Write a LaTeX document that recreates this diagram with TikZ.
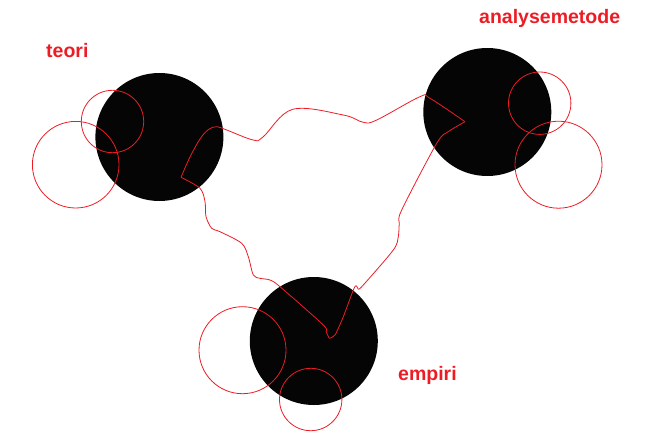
\documentclass[tikz,border=0pt]{standalone}
\usepackage{fontspec}
\setmainfont{Liberation Sans}
\definecolor{lred}{RGB}{237,28,36}
\begin{document}
\begin{tikzpicture}[x=1pt,y=-1pt,
  blob/.style={circle,fill=black!98,inner sep=0pt,minimum size=128pt},
  ring/.style={circle,draw=lred,line width=0.8pt,inner sep=0pt,minimum size=#1},
  lbl/.style={text=lred,font=\fontsize{19.5}{23}\selectfont\bfseries,inner sep=0pt,anchor=base west},
  wave/.style={draw=lred,line width=0.8pt,line join=round}]
\useasboundingbox (0,0) rectangle (655,433);

% three filled discs
\node[blob] (teoriC) at (159.4,137) {};
\node[blob] (analyseC) at (487.3,112) {};
\node[blob] (empiriC) at (313.8,341) {};

% outline rings around each disc
\node[ring=62.4pt] (t1) at (112.5,121.5) {};
\node[ring=86.6pt] (t2) at (75.7,164.7) {};
\node[ring=62.4pt] (a1) at (539.7,103.2) {};
\node[ring=87pt] (a2) at (558.5,164.7) {};
\node[ring=87pt] (e1) at (242.5,350.2) {};
\node[ring=62.4pt] (e2) at (310.7,399.5) {};

% hand-drawn loop through the three discs
\draw[wave] plot[smooth,tension=0.6] coordinates {(181,177.3) (190,157) (200,139) (208.5,129.5) (216.7,126.7) (226.7,130) (253.3,140) (263.3,136.7) (292.7,109.3) (343.3,115) (363.3,122.3) (376.7,120) (420,96.7) (430,98.3) (465,121.7)};
\draw[wave] plot[smooth,tension=0.5] coordinates {(465,121.7) (448.3,131.7) (436.7,143.3) (401.7,210) (399.3,223.3) (398.3,236.7) (393.3,250) (363.3,285) (358.3,289.3)};
\draw[wave] plot[smooth,tension=0.4] coordinates {(358.3,289.3) (356,285.7) (353.3,290) (343.3,316.7) (335,335) (329.3,338.3)};
\draw[wave] plot[smooth,tension=0.5] coordinates {(329.3,338.3) (326,331.7) (323.3,325) (280,286.7) (270,280) (260,278.3) (253.3,275) (248.3,256.7) (241.7,243.3) (220,231.7) (211.7,228.3) (206,216.7) (205,201.7) (200,188.3) (181,177.3)};

% labels
\node[lbl] (teoriL) at (46,57.3) {teori};
\node[lbl] (analyseL) at (479,23.3) {analysemetode};
\node[lbl] (empiriL) at (398,380.7) {empiri};
\end{tikzpicture}
\end{document}
